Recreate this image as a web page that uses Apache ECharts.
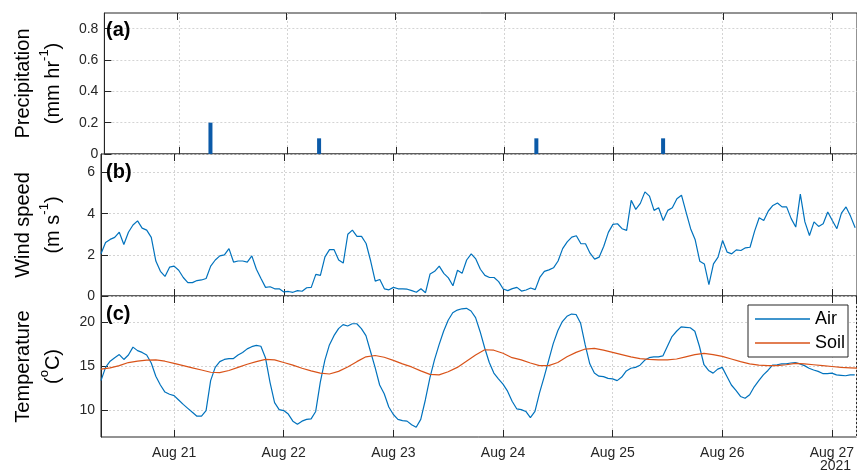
<!DOCTYPE html>
<html>
<head>
<meta charset="utf-8">
<script src="https://cdn.jsdelivr.net/npm/echarts@6.0.0/dist/echarts.min.js"></script>
<style>
html, body { margin: 0; padding: 0; background: #fff; }
#chart { width: 857px; height: 474px; }
</style>
</head>
<body>
<div id="chart"></div>
<script>
// Station record, hourly from 20 Aug 2021 08:00 (local time)
const recordStart = [2021, 8, 20, 8];          // year, month, day, hour
const windSpeed = [                              // m s-1, hourly
  2.05, 2.6, 2.75, 2.85, 3.1, 2.5, 3.1, 3.45, 3.65, 3.3,
  3.2, 2.85, 1.7, 1.2, 0.95, 1.4, 1.45, 1.25, 0.9, 0.65,
  0.65, 0.75, 0.78, 0.85, 1.45, 1.75, 1.95, 2.0, 2.3, 1.65,
  1.7, 1.7, 1.65, 1.95, 1.3, 0.85, 0.42, 0.45, 0.35, 0.35,
  0.2, 0.22, 0.18, 0.26, 0.23, 0.4, 0.42, 1.05, 1.0, 1.9,
  2.25, 2.25, 1.75, 1.6, 3.0, 3.2, 2.9, 2.9, 2.55, 1.7,
  0.72, 0.8, 0.35, 0.3, 0.42, 0.35, 0.35, 0.33, 0.26, 0.18,
  0.35, 0.16, 1.07, 1.2, 1.45, 1.1, 0.88, 0.5, 1.25, 1.1,
  1.75, 2.05, 1.8, 1.3, 1.0, 0.9, 0.9, 0.7, 0.34, 0.26,
  0.36, 0.42, 0.24, 0.29, 0.39, 0.31, 0.9, 1.2, 1.27, 1.37,
  1.7, 2.3, 2.63, 2.86, 2.93, 2.54, 2.54, 2.08, 1.79, 1.89,
  2.42, 3.09, 3.48, 3.51, 3.27, 3.19, 4.65, 4.21, 4.5, 5.06,
  4.85, 4.16, 4.29, 3.67, 4.16, 4.29, 4.73, 4.9, 4.08, 3.27,
  2.73, 1.69, 1.56, 0.55, 1.56, 1.89, 2.7, 2.13, 2.05, 2.24,
  2.21, 2.34, 2.37, 3.15, 3.8, 3.67, 4.13, 4.4, 4.52, 4.33,
  4.33, 3.76, 3.35, 4.95, 3.6, 2.94, 3.6, 3.38, 3.51, 4.08,
  3.67, 3.27, 4.03, 4.33, 3.87, 3.32
];
const airTemp = [                                // deg C, hourly
  13.4, 14.9, 15.6, 16.0, 16.35, 15.8, 16.3, 17.2, 16.8, 16.6,
  16.3, 15.4, 13.9, 12.9, 12.1, 11.85, 11.7, 11.2, 10.7, 10.25,
  9.8, 9.36, 9.36, 10.0, 13.4, 14.9, 15.55, 15.8, 15.9, 15.9,
  16.3, 16.6, 17.0, 17.25, 17.4, 17.3, 16.0, 13.2, 10.9, 10.1,
  10.0, 9.6, 8.8, 8.45, 8.8, 9.0, 9.06, 9.9, 13.2, 15.7,
  17.45, 18.5, 19.3, 19.75, 19.6, 19.85, 19.85, 19.3, 18.5, 16.7,
  14.9, 12.9, 11.9, 10.4, 9.55, 9.0, 8.85, 8.8, 8.4, 8.1,
  9.0, 11.2, 13.7, 15.75, 17.45, 19.0, 20.25, 21.1, 21.4, 21.55,
  21.6, 21.3, 20.55, 18.95, 17.1, 15.45, 14.25, 13.6, 13.0, 12.2,
  11.05, 10.2, 10.1, 9.9, 9.2, 9.9, 12.0, 13.8, 15.7, 17.6,
  19.05, 20.1, 20.7, 20.95, 20.9, 19.9, 17.45, 15.3, 14.25, 13.9,
  13.85, 13.65, 13.6, 13.4, 13.8, 14.5, 14.8, 14.9, 15.15, 15.7,
  16.0, 16.1, 16.1, 16.2, 17.3, 18.4, 19.0, 19.5, 19.45, 19.4,
  19.0, 17.3, 15.2, 14.55, 14.25, 14.7, 14.9, 13.9, 12.9, 12.3,
  11.6, 11.4, 11.8, 12.7, 13.4, 14.05, 14.55, 15.15, 15.2, 15.3,
  15.3, 15.4, 15.45, 15.3, 15.1, 14.8, 14.6, 14.45, 14.2, 14.2,
  14.25, 14.05, 14.0, 13.95, 14.05, 14.05
];
const soilStepHours = 2;
const soilTemp = [                               // deg C, every 2 h
  14.7, 14.85, 15.1, 15.45, 15.6, 15.72, 15.75, 15.6, 15.35, 15.1,
  14.85, 14.6, 14.35, 14.3, 14.55, 14.9, 15.25, 15.55, 15.8, 15.75,
  15.45, 15.15, 14.8, 14.5, 14.25, 14.15, 14.45, 14.95, 15.55, 16.1,
  16.25, 16.05, 15.7, 15.3, 14.95, 14.5, 14.1, 14.05, 14.4, 14.9,
  15.6, 16.3, 16.9, 16.85, 16.5, 16.0, 15.75, 15.4, 15.1, 15.1,
  15.45, 16.1, 16.6, 16.98, 17.05, 16.85, 16.6, 16.35, 16.1, 15.9,
  15.8, 15.75, 15.75, 15.85, 16.1, 16.35, 16.5, 16.35, 16.15, 15.85,
  15.55, 15.3, 15.15, 15.1, 15.1, 15.2, 15.35, 15.3, 15.2, 15.1,
  15.0, 14.9, 14.85, 14.8
];
const precipTimes = ['2021-08-21T07:00', '2021-08-22T07:00', '2021-08-24T07:00', '2021-08-25T11:00'];
const precipValues = [0.2, 0.1, 0.1, 0.1];       // mm hr-1
const precipTicks = [0, 0.2, 0.4, 0.6, 0.8];
const windTicks = [0, 2, 4, 6];
const tempTicks = [10, 15, 20];
const seriesNames = ['Air', 'Soil'];
const monthLabel = 'Aug';
const yearLabel = '2021';

const HOUR = 3600 * 1000;
const DAY = 24 * HOUR;
const t0 = new Date(recordStart[0], recordStart[1] - 1, recordStart[2], recordStart[3]).getTime();
const xMin = t0;
const xMax = t0 + 165.4 * HOUR;

const hourly = arr => arr.map((v, i) => [t0 + i * HOUR, v]);
const windData = hourly(windSpeed);
const airData = hourly(airTemp);
const soilData = soilTemp.map((v, i) => [t0 + i * soilStepHours * HOUR, v]);
const precipData = precipTimes.map((s, i) => [new Date(s).getTime(), precipValues[i]]);

const FONT = "'Liberation Sans', Arial, Helvetica, sans-serif";
const INK = '#262626';
const gridLine = { show: true, lineStyle: { color: '#d4d4d4', type: [2, 2], width: 1 } };

const grids = [
  { left: 99, right: -2, top: 13, height: 141 },
  { left: 99, right: -2, top: 154, height: 142 },
  { left: 99, right: -2, top: 296, height: 141 }
].map(g => Object.assign(g, { show: true, borderColor: INK, borderWidth: 1, backgroundColor: '#fff' }));

function xAxes(gridIndex, withLabels) {
  const common = {
    type: 'time', gridIndex, min: xMin, max: xMax,
    minInterval: DAY, maxInterval: DAY,
    axisLine: { show: false },
    axisTick: { show: true, inside: true, length: 7, lineStyle: { color: INK, width: 1 } }
  };
  return [
    Object.assign({}, common, {
      position: 'bottom',
      splitLine: gridLine,
      axisLabel: {
        show: withLabels, margin: 9, color: INK, fontFamily: FONT, fontSize: 14,
        formatter: v => monthLabel + ' ' + new Date(v).getDate()
      }
    }),
    Object.assign({}, common, {
      position: 'top',
      splitLine: { show: false },
      axisLabel: { show: false }
    })
  ];
}

function yAxis(gridIndex, min, max, step, ticks, nameRich) {
  const isTick = v => ticks.some(t => Math.abs(t - v) < 1e-6);
  return {
    type: 'value', gridIndex, min, max, interval: step,
    name: nameRich, nameLocation: 'middle', nameRotate: 90, nameGap: 33,
    nameTextStyle: {
      color: '#000', fontFamily: FONT, fontSize: 20, lineHeight: 30,
      rich: {
        t: { color: '#000', fontFamily: FONT, fontSize: 20, lineHeight: 30 },
        s: { color: '#000', fontFamily: FONT, fontSize: 13, lineHeight: 16, verticalAlign: 'top' }
      }
    },
    axisLine: { show: true, lineStyle: { color: INK, width: 1 } },
    axisTick: { show: true, inside: true, length: 7, customValues: ticks, lineStyle: { color: INK } },
    axisLabel: {
      show: true, margin: 6, color: INK, fontFamily: FONT, fontSize: 14,
      customValues: ticks,
      formatter: v => (isTick(v) ? String(Math.round(v * 100) / 100) : '')
    },
    splitLine: gridLine
  };
}

const chart = echarts.init(document.getElementById('chart'), null, { renderer: 'canvas' });
chart.setOption({
  animation: false,
  backgroundColor: '#fff',
  grid: grids,
  xAxis: [].concat(xAxes(0, false), xAxes(1, false), xAxes(2, true)),
  yAxis: [
    yAxis(0, 0, 0.9, 0.05, precipTicks, '{t|Precipitation}\n{t|(mm hr}{s|-1}{t|)}'),
    yAxis(1, 0, 6.9, 0.5, windTicks, '{t|Wind speed}\n{t|(m s}{s|-1}{t|)}'),
    yAxis(2, 7, 23, 1, tempTicks, '{t|Temperature}\n{t|(}{s|o}{t|C)}')
  ],
  legend: {
    data: seriesNames,
    left: 748, top: 305, orient: 'vertical',
    icon: 'rect',
    backgroundColor: '#fff', borderColor: INK, borderWidth: 1, borderRadius: 0,
    padding: [4, 3, 4, 7], itemGap: 4, itemWidth: 55, itemHeight: 1.4,
    textStyle: { color: '#000', fontFamily: FONT, fontSize: 18, lineHeight: 20 }
  },
  series: [
    {
      name: 'Precipitation', type: 'bar', xAxisIndex: 0, yAxisIndex: 0,
      data: precipData, barWidth: 4, itemStyle: { color: '#0b5aa8' }
    },
    {
      name: 'Wind speed', type: 'line', xAxisIndex: 2, yAxisIndex: 1,
      data: windData, symbol: 'none', lineStyle: { color: '#0072BD', width: 1.2 }
    },
    {
      name: seriesNames[0], type: 'line', xAxisIndex: 4, yAxisIndex: 2,
      data: airData, symbol: 'none', itemStyle: { color: '#0072BD' }, lineStyle: { color: '#0072BD', width: 1.2 }
    },
    {
      name: seriesNames[1], type: 'line', xAxisIndex: 4, yAxisIndex: 2,
      data: soilData, symbol: 'none', itemStyle: { color: '#D95319' }, lineStyle: { color: '#D95319', width: 1.2 }
    }
  ],
  graphic: [
    { type: 'text', left: 106, top: 20, z: 100, style: { text: '(a)', fontFamily: FONT, fontSize: 20, fontWeight: 'bold', fill: '#000' } },
    { type: 'text', left: 106, top: 162, z: 100, style: { text: '(b)', fontFamily: FONT, fontSize: 20, fontWeight: 'bold', fill: '#000' } },
    { type: 'text', left: 106, top: 304, z: 100, style: { text: '(c)', fontFamily: FONT, fontSize: 20, fontWeight: 'bold', fill: '#000' } },
    { type: 'text', left: 820, top: 459, z: 100, style: { text: yearLabel, fontFamily: FONT, fontSize: 14, fill: INK } }
  ]
});
</script>
</body>
</html>
